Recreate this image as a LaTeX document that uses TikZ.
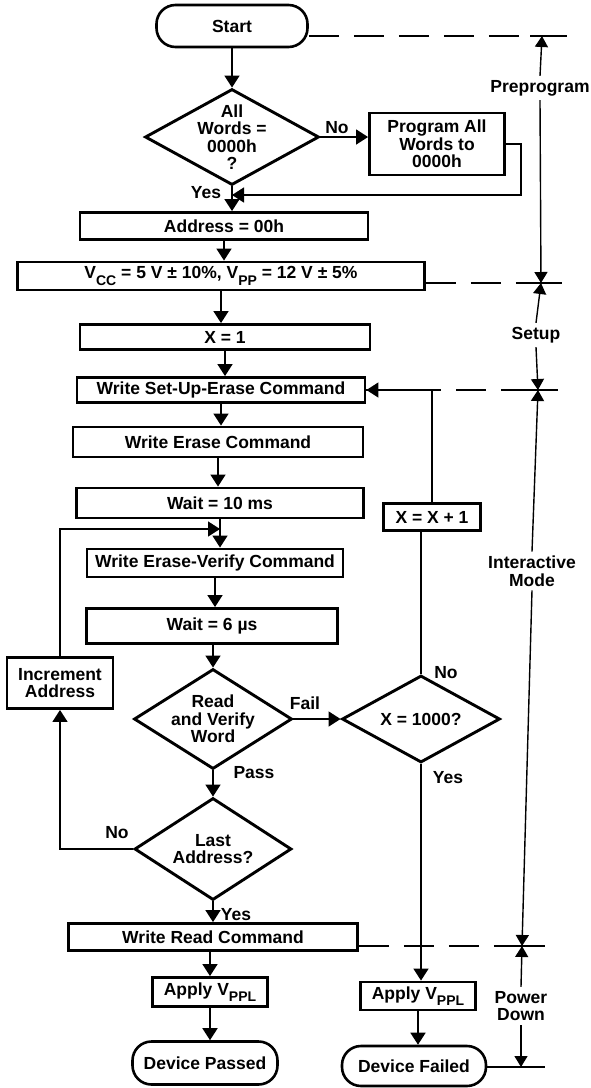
\documentclass[tikz,border=0pt]{standalone}
\usepackage{fontspec}
\setmainfont{Liberation Sans}
\usetikzlibrary{shapes.geometric,arrows.meta}
\newcommand{\lowsub}[1]{\raisebox{-0.35em}{\fontsize{14}{14}\selectfont #1}}
\begin{document}
\begin{tikzpicture}[x=1pt,y=-1pt,
  font=\fontsize{17.5}{17.5}\selectfont\bfseries,
  box/.style={draw, line width=2.9pt, inner sep=0pt, align=center},
  term/.style={draw, line width=2.6pt, rounded corners=19pt, inner sep=0pt, align=center},
  dia/.style={draw, diamond, line width=2.9pt, inner sep=0pt},
  txt/.style={inner sep=0pt, align=center},
  lbl/.style={inner sep=0pt},
  arr/.style={line width=1.6pt, -{Triangle[length=12pt,width=15pt]}},
  ln/.style={line width=1.6pt},
  meas/.style={line width=1.4pt, -{Triangle[length=11pt,width=13pt]}},
  dsh/.style={line width=1.5pt, dash pattern=on 30pt off 15pt},
  tick/.style={line width=1.5pt},
  mlbl/.style={inner sep=4pt, align=center},
]
\useasboundingbox (0,0) rectangle (590,1088);

% main column
\node[term, minimum width=151pt, minimum height=42pt] (start) at (232,26) {Start};
\node[dia, minimum width=174pt, minimum height=96pt] (d1) at (232,137) {};
\node[txt] (d1t) at (d1) {All\\Words =\\0000h\\?};
\node[box, minimum width=135pt, minimum height=62pt] (prog) at (437,144) {Program All\\Words to\\0000h};
\node[box, minimum width=288pt, minimum height=27pt] (addr) at (224,226) {Address = 00h};
\node[box, minimum width=407pt, minimum height=28pt] (vcc) at (221,276) {V\lowsub{CC} = 5 V ± 10\%, V\lowsub{PP} = 12 V ± 5\%};
\node[box, minimum width=290pt, minimum height=25pt] (x1) at (225,337) {X = 1};
\node[box, minimum width=288pt, minimum height=25pt] (wsue) at (221,390) {Write Set-Up-Erase Command};
\node[box, minimum width=290pt, minimum height=30pt] (wec) at (218,442) {Write Erase Command};
\node[box, minimum width=287pt, minimum height=30pt] (wait10) at (220,503) {Wait = 10 ms};
\node[box, minimum width=256pt, minimum height=28pt] (wev) at (215,563) {Write Erase-Verify Command};
\node[box, minimum width=251pt, minimum height=35pt] (wait6) at (212,626) {Wait = 6 µs};
\node[dia, minimum width=158pt, minimum height=100pt] (d2) at (213,719) {};
\node[txt] (d2t) at (d2) {Read\\and Verify\\Word};
\node[box, minimum width=106pt, minimum height=51pt] (incr) at (60,683) {Increment\\Address};
\node[dia, minimum width=158pt, minimum height=87pt] (x1000) at (421,719) {};
\node[txt] (x1000t) at (x1000) {X = 1000?};
\node[box, minimum width=97pt, minimum height=27pt] (xinc) at (432,517) {X = X + 1};
\node[dia, minimum width=157pt, minimum height=102pt] (d3) at (213,849) {};
\node[txt] (d3t) at (d3) {Last\\Address?};
\node[box, minimum width=289pt, minimum height=27pt] (wrc) at (213,937) {Write Read Command};
\node[box, minimum width=115pt, minimum height=29pt] (applyL) at (210,992) {Apply V\lowsub{PPL}};
\node[term, minimum width=145pt, minimum height=43pt] (passed) at (205,1063) {Device Passed};
\node[box, minimum width=115pt, minimum height=28pt] (applyR) at (418,996) {Apply V\lowsub{PPL}};
\node[term, minimum width=144pt, minimum height=40pt] (failed) at (414,1066) {Device Failed};

% branch labels
\node[lbl] (no1) at (337,128) {No};
\node[lbl] (yes1) at (206,193) {Yes};
\node[lbl] (fail) at (305,703) {Fail};
\node[lbl] (pass) at (254,773) {Pass};
\node[lbl] (no2) at (446,673) {No};
\node[lbl] (yes2) at (448,778) {Yes};
\node[lbl] (no3) at (117,833) {No};
\node[lbl] (yes3) at (236,915) {Yes};

% phase labels
\node[mlbl] (lpre) at (540,88) {Preprogram};
\node[mlbl] (lset) at (536,335) {Setup};
\node[mlbl] (lint) at (532,571) {Interactive\\Mode};
\node[mlbl] (lpow) at (521,1006) {Power\\Down};

\coordinate (tm) at (542,36);
\coordinate (m1) at (541,283);
\coordinate (m2) at (538,390);
\coordinate (m3) at (522,946);
\coordinate (bm) at (521,1067);
\coordinate (j1) at (232,195);
\coordinate (j2) at (220,529);

% main flow
\draw[arr] (start.south) -- (d1.north);
\draw[arr] (d1.east) -- (d1.east -| prog.west);
\draw[arr] (prog.east) -- ++(15,0) |- (j1);
\draw[arr] (d1.south) -- (d1.south |- addr.north);
\draw[arr] (addr.south) -- (addr.south |- vcc.north);
\draw[arr] (vcc.south) -- (vcc.south |- x1.north);
\draw[arr] (x1.south) -- (x1.south |- wsue.north);
\draw[arr] (wsue.south) -- (wsue.south |- wec.north);
\draw[arr] (wec.south) -- (wec.south |- wait10.north);
\draw[arr] (wait10.south) -- (wait10.south |- wev.north);
\draw[arr] (incr.north) |- (j2);
\draw[arr] (wev.south) -- (wev.south |- wait6.north);
\draw[arr] (d2.north |- wait6.south) -- (d2.north);
\draw[arr] (d2.east) -- (x1000.west);
\draw[arr] (d2.south) -- (d3.north);
\draw[arr] (d3.west) -| (incr.south);
\draw[arr] (d3.south) -- (d3.south |- wrc.north);
\draw[arr] (applyL.north |- wrc.south) -- (applyL.north);
\draw[arr] (applyL.south) -- (applyL.south |- passed.north);
\draw[ln] (x1000.north) -- (x1000.north |- xinc.south);
\draw[arr] (xinc.north) |- (wsue.east);
\draw[arr] (x1000.south) -- (x1000.south |- applyR.north);
\draw[arr] (applyR.south) -- (applyR.south |- failed.north);

% phase boundaries
\draw[dsh] (start.east |- tm) -- ([xshift=25pt]tm);
\draw[tick] ([xshift=-12pt]tm) -- ([xshift=25pt]tm);
\draw[dsh] (vcc.east |- m1) -- ([xshift=20pt]m1);
\draw[tick] ([xshift=-14pt]m1) -- ([xshift=20pt]m1);
\draw[dsh] (wsue.east |- m2) -- ([xshift=20pt]m2);
\draw[tick] ([xshift=-10pt]m2) -- ([xshift=20pt]m2);
\draw[dsh] (wrc.east |- m3) -- ([xshift=23pt]m3);
\draw[tick] ([xshift=-10pt]m3) -- ([xshift=23pt]m3);
\draw[dsh] (failed.east |- bm) -- ([xshift=24pt]bm);
\draw[tick] ([xshift=-10pt]bm) -- ([xshift=24pt]bm);

\draw[meas] (lpre.north) -- (tm);
\draw[meas] (lpre.south) -- (m1);
\draw[meas] (lset.north) -- (m1);
\draw[meas] (lset.south) -- (m2);
\draw[meas] (lint.north) -- (m2);
\draw[meas] (lint.south) -- (m3);
\draw[meas] (lpow.north) -- (m3);
\draw[meas] (lpow.south) -- (bm);
\end{tikzpicture}
\end{document}
